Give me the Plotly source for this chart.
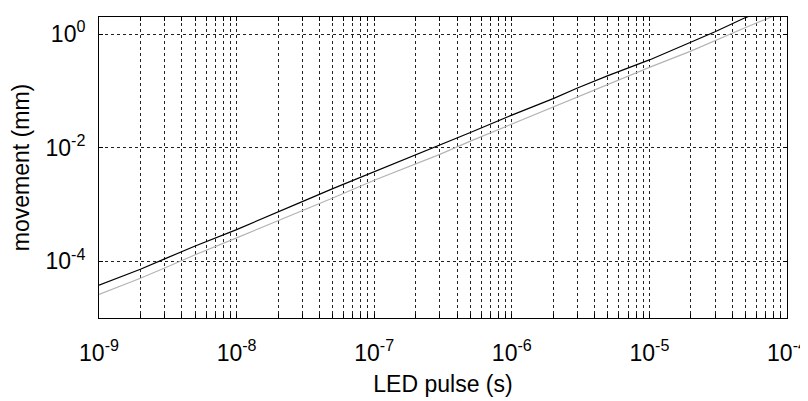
import plotly.graph_objects as go

pulse_s = [1e-9, 2e-9, 3e-9, 5e-9, 1e-8, 2e-8, 3e-8, 5e-8, 1e-7, 2e-7, 3e-7, 5e-7,
           1e-6, 2e-6, 3e-6, 5e-6, 1e-5, 2e-5, 3e-5, 5e-5, 1e-4]
movement_black = [3.8e-5, 7.2e-5, 1.1e-4, 1.85e-4, 3.6e-4, 7.5e-4, 1.12e-3, 1.9e-3, 3.75e-3,
                  7.4e-3, 1.1e-2, 1.85e-2, 3.74e-2, 7.3e-2, 1.12e-1, 1.85e-1, 0.35, 0.71,
                  1.1, 1.95, 3.8]
movement_gray = [2.6e-5, 5.0e-5, 7.6e-5, 1.3e-4, 2.57e-4, 5.1e-4, 7.7e-4, 1.3e-3, 2.67e-3,
                 5.1e-3, 7.6e-3, 1.3e-2, 2.6e-2, 5.1e-2, 7.7e-2, 1.3e-1, 0.259, 0.5,
                 0.77, 1.3, 2.6]

x_major_exp = [-9, -8, -7, -6, -5, -4]
y_major_exp = [-4, -2, 0]

x_tickvals, x_ticktext = [], []
for e in x_major_exp:
    for m in range(1, 10):
        if e == -4 and m > 1:
            break
        x_tickvals.append(m * 10.0 ** e)
        x_ticktext.append(f"10<sup>{e}</sup>" if m == 1 else "")

y_tickvals = [10.0 ** e for e in y_major_exp]
y_ticktext = [f"10<sup>{e}</sup>" for e in y_major_exp]

fig = go.Figure()
fig.add_trace(go.Scatter(x=pulse_s, y=movement_gray, mode="lines",
                         line=dict(color="#b4b4b4", width=1.2), showlegend=False))
fig.add_trace(go.Scatter(x=pulse_s, y=movement_black, mode="lines",
                         line=dict(color="#000000", width=1.2), showlegend=False))

# page body has an 8px default margin, so the figure is sized/offset to compensate
fig.update_layout(
    width=800, height=393,
    margin=dict(l=91, r=21, t=9, b=83),
    paper_bgcolor="white", plot_bgcolor="white",
    font=dict(family="Liberation Sans, Arial, sans-serif", color="black"),
)
fig.update_xaxes(
    type="log", range=[-9, -4], automargin=False,
    tickvals=x_tickvals, ticktext=x_ticktext,
    tickfont=dict(size=23),
    ticks="inside", ticklen=4, tickcolor="black",
    showgrid=True, gridcolor="#222222", gridwidth=1, griddash="3px,3px",
    showline=True, linecolor="black", linewidth=1, mirror="ticks",
    zeroline=False, ticklabelstandoff=14,
    title=dict(text="LED pulse (s)", font=dict(size=23), standoff=11),
)
fig.update_yaxes(
    type="log", range=[-5, 0.3], automargin=False,
    tickvals=y_tickvals, ticktext=y_ticktext,
    tickfont=dict(size=23),
    ticks="inside", ticklen=4, tickcolor="black",
    showgrid=True, gridcolor="#222222", gridwidth=1, griddash="3px,3px",
    showline=True, linecolor="black", linewidth=1, mirror="ticks",
    zeroline=False, ticklabelstandoff=8,
    title=dict(text="movement (mm)", font=dict(size=23), standoff=18),
)

fig.write_html("out.html")
